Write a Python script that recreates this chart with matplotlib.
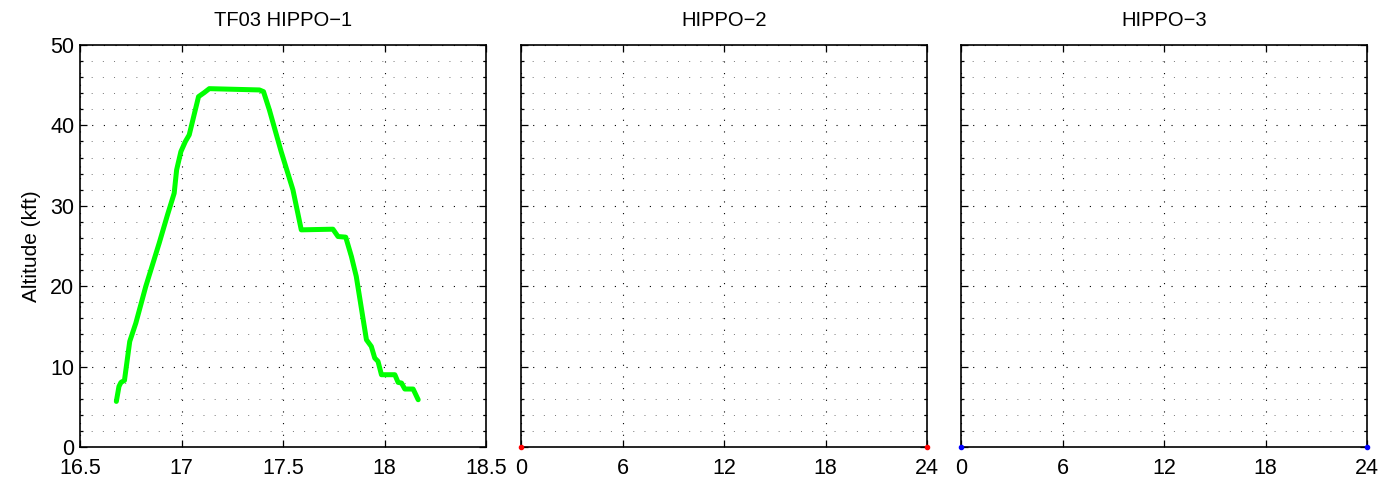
import matplotlib
matplotlib.use("Agg")
import matplotlib.pyplot as plt
from matplotlib.ticker import MultipleLocator, NullLocator

plt.rcParams['font.family'] = ['Liberation Sans', 'DejaVu Sans']

# Data: panel 1 flight track (time in hours UTC, altitude in kft)
time_h = [16.679, 16.692, 16.702, 16.719, 16.745, 16.775, 16.824, 16.890, 16.931,
          16.964, 16.976, 16.997, 17.019, 17.038, 17.084, 17.112, 17.137, 17.384,
          17.404, 17.433, 17.491, 17.549, 17.590, 17.746, 17.771, 17.809, 17.837,
          17.861, 17.911, 17.935, 17.952, 17.968, 17.985, 18.051, 18.067, 18.084,
          18.100, 18.141, 18.166]
alt_kft = [5.67, 7.54, 8.04, 8.28, 13.13, 15.41, 19.97, 25.35, 28.87,
           31.57, 34.47, 36.74, 37.99, 38.82, 43.58, 44.08, 44.57, 44.41,
           44.20, 41.92, 36.74, 31.98, 27.01, 27.09, 26.18, 26.10, 23.70,
           21.21, 13.34, 12.51, 11.06, 10.65, 8.99, 8.99, 8.04, 7.95,
           7.21, 7.21, 5.88]

titles = ["TF03 HIPPO\u22121", "HIPPO\u22122", "HIPPO\u22123"]
h2_x = [0, 24]
h2_y = [0, 0]
h3_x = [0, 24]
h3_y = [0, 0]
x_ticks_hours = [0, 6, 12, 18, 24]
x_ticks_p1 = [16.5, 17, 17.5, 18, 18.5]
x_labels_p1 = ["16.5", "17", "17.5", "18", "18.5"]
y_ticks = [0, 10, 20, 30, 40, 50]

fig = plt.figure(figsize=(13.82, 4.84), dpi=100)
W, H = 1382, 484
lefts = [80, 521, 961]
axw = 406
bottom_px, top_px = 447, 45
axes = []
for l in lefts:
    ax = fig.add_axes([l / W, 1 - bottom_px / H, axw / W, (bottom_px - top_px) / H])
    axes.append(ax)

def style(ax, xmin, xmax, xticks):
    ax.set_xlim(xmin, xmax)
    ax.set_ylim(0, 50)
    ax.set_xticks(xticks)
    ax.set_yticks(y_ticks)
    ax.xaxis.set_minor_locator(NullLocator())
    ax.yaxis.set_minor_locator(MultipleLocator(2))
    ax.tick_params(which='both', direction='in', top=True, right=True,
                   labelsize=15.5, width=0.9, color='k')
    ax.tick_params(which='major', length=5, pad=4)
    ax.tick_params(which='minor', length=2.5)
    ax.grid(which='major', axis='both', color='k', linewidth=0.8, dashes=(1, 9.5))
    ax.grid(which='minor', axis='y', color='0.45', linewidth=0.7, dashes=(1, 10.5))
    ax.set_axisbelow(True)
    for s in ax.spines.values():
        s.set_linewidth(1.2)
    ax.xaxis.set_tick_params(pad=8)

ax1, ax2, ax3 = axes
style(ax1, 16.5, 18.5, x_ticks_p1)
ax1.set_xticklabels(x_labels_p1)
ax1.plot(time_h, alt_kft, color=(0, 1, 0), linewidth=3.6, solid_joinstyle='round',
         solid_capstyle='round', zorder=3)
ax1.set_ylabel("Altitude (kft)", fontsize=15, labelpad=7)

style(ax2, 0, 24, x_ticks_hours)
ax2.set_yticklabels([])
ax2.plot(h2_x, h2_y, 'o', color='red', markersize=3, clip_on=False, zorder=5)

style(ax3, 0, 24, x_ticks_hours)
ax3.set_yticklabels([])
ax3.plot(h3_x, h3_y, 'o', color='blue', markersize=3, clip_on=False, zorder=5)

for ax, t in zip(axes, titles):
    ax.set_title(t, fontsize=14.5, pad=13.5)

fig.savefig("out.png", dpi=100)
